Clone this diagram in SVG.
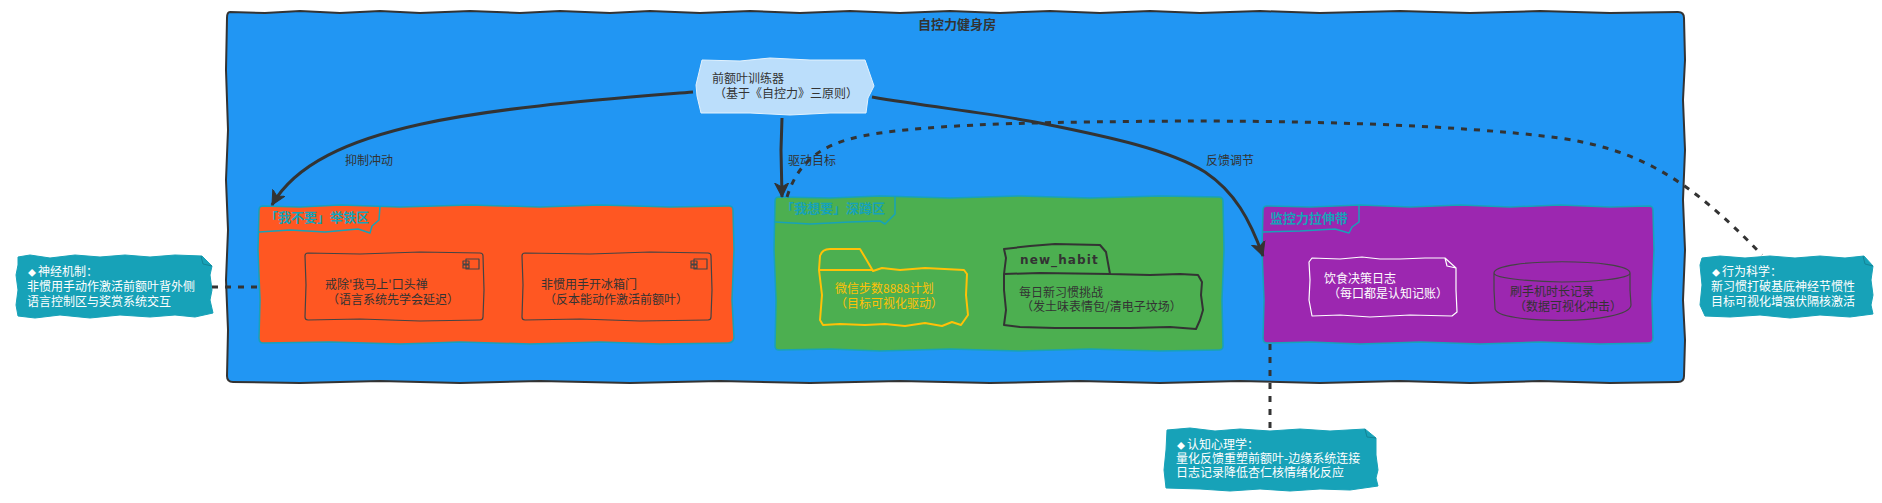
<svg xmlns="http://www.w3.org/2000/svg" width="1882" height="503" viewBox="0 0 1882 503">
<style>
text{font-family:"Noto Sans CJK SC","Noto Sans",sans-serif;font-size:12px;fill:#333;white-space:pre}
.zone{stroke:#17A2B8;stroke-width:1.5;stroke-linejoin:round}
.tab{fill:none;stroke:#17A2B8;stroke-width:1.5;stroke-linejoin:round}
.tt{fill:#17A2B8;font-weight:700;font-size:13px}
.note{fill:#17A2B8;stroke:#17A2B8;stroke-width:1;stroke-linejoin:round}
.nt{fill:#fff}
.dm{font-size:8px}
.fold{fill:none;stroke:#138496;stroke-width:1}
.cn{fill:none;stroke:#333;stroke-width:3;stroke-linecap:butt}
.ds{stroke-dasharray:6 7}
.sl{fill:none;stroke:#444;stroke-width:1.2;stroke-linejoin:round}
</style>
<defs>
<marker id="ah" markerUnits="userSpaceOnUse" markerWidth="18" markerHeight="16" refX="14" refY="8" orient="auto"><path d="M0 1L14 8L0 15L4 8Z" fill="#333" stroke="#333"/></marker>
</defs>
<g id="fitness-room">
<path d="M230 12L265 13L300 11L340 13L380 11L420 13L470 11L520 13L560 11L610 13L650 11L700 13L750 11L800 13L850 11L900 13L950 11L1000 13L1050 11L1100 13L1150 11L1200 13L1260 11L1320 13L1400 11L1470 13L1540 11L1610 13L1678 12Q1684 12 1684 18L1685 60L1683 100L1685 150L1683 200L1685 250L1683 300L1685 340L1684 376Q1684 382 1678 382L1610 383L1540 381L1470 383L1400 381L1320 383L1240 381L1160 383L1080 381L990 383L900 381L810 383L720 381L630 383L540 381L460 383L380 381L300 383L233 382Q227 382 227 376L228 330L226 280L228 230L226 180L228 130L226 70L227 18Q227 12 230 12Z" fill="#2196F3" stroke="#333" stroke-width="2"/>
<text x="918" y="29" style="font-weight:700;font-size:13px">自控力健身房</text>
</g>
<g id="zone-no">
<path class="zone" fill="#FF5722" d="M263 206L300 207L340 205L400 207L470 205L540 207L600 205L670 207L729 206Q733 206 733 210L734 250L732 300L734 338Q733 343 728 343L660 344L600 342L530 344L460 342L400 344L330 342L263 343Q259 343 259 338L260 300L258 250L259 210Q259 206 263 206Z"/>
<path class="tab" d="M259 232L290 230L325 232L358 229L370 233L372 226L379 220L380 206"/>
<text class="tt" x="265" y="222">「我不要」举铁区</text>
</g>
<g id="comp-1">
<path class="sl" d="M308 253L360 254L420 252L480 253Q483 253 483 256L484 290L483 317Q483 320 480 320L420 321L360 319L308 320Q305 320 305 317L306 285L305 256Q305 253 308 253Z"/>
<path class="sl" d="M466 259H479V269H466ZM463 261H469V264H463ZM463 265H469V268H463Z"/>
<text x="325" y="289">戒除'我马上'口头禅</text>
<text x="327" y="304">（语言系统先学会延迟）</text>
</g>
<g id="comp-2">
<path class="sl" d="M525 253L590 254L650 252L708 253Q711 253 711 256L712 290L711 317Q711 320 708 320L640 321L580 319L525 320Q522 320 522 317L523 285L522 256Q522 253 525 253Z"/>
<path class="sl" d="M694 259H707V269H694ZM691 261H697V264H691ZM691 265H697V268H691Z"/>
<text x="541" y="289">非惯用手开冰箱门</text>
<text x="544" y="304">（反本能动作激活前额叶）</text>
</g>
<g id="zone-want">
<path class="zone" fill="#4CAF50" d="M779 197L830 198L880 196L950 198L1020 196L1090 198L1160 196L1219 197Q1223 197 1223 201L1224 250L1222 300L1223 346Q1223 350 1219 350L1160 351L1090 349L1020 351L950 349L880 351L830 349L779 350Q775 350 775 346L776 300L774 250L775 201Q775 197 779 197Z"/>
<path class="tab" d="M775 222L810 224L850 222L880 221L885 224L888 221L895 214L895 197"/>
<text class="tt" x="781" y="213">「我想要」深蹲区</text>
</g>
<g id="folder">
<path fill="none" stroke="#FFC107" stroke-width="2" stroke-linejoin="round" d="M819 270L820 256Q822 249 830 249L860 249L866 259L873 271L882 268L900 270L925 268L964 270L967 274L966 295L968 315L961 325L952 322L942 326L925 323L905 326L885 324L865 325L840 324L823 325L820 320L822 295L819 270ZM819 270H873"/>
<text x="835" y="293" style="fill:#FFC107">微信步数8888计划</text>
<text x="835" y="308" style="fill:#FFC107">（目标可视化驱动）</text>
</g>
<g id="new_habit">
<path fill="none" stroke="#333" stroke-width="2" stroke-linejoin="round" d="M1004 274L1006 258L1004 249L1030 246L1055 244L1100 245L1106 252L1110 274L1150 275L1180 274L1198 275L1202 282L1201 295L1203 310L1200 320L1196 329L1170 327L1130 328L1090 328L1055 328L1020 327L1004 325L1006 310L1004 290L1004 274ZM1004 274L1040 273L1110 274"/>
<text x="1020" y="264" style="font-family:'DejaVu Sans',sans-serif;font-weight:700;letter-spacing:1.1px">new_habit</text>
<text x="1019" y="297">每日新习惯挑战</text>
<text x="1021" y="311">（发土味表情包/清电子坟场）</text>
</g>
<g id="zone-monitor">
<path class="zone" fill="#9C27B0" d="M1267 206L1310 207L1360 205L1410 207L1460 205L1510 207L1560 205L1610 207L1649 206Q1653 206 1653 210L1654 250L1652 300L1653 338Q1653 343 1648 343L1600 344L1540 342L1480 344L1420 342L1360 344L1310 342L1267 343Q1263 343 1263 338L1264 300L1262 250L1263 210Q1263 206 1267 206Z"/>
<path class="tab" d="M1263 232L1300 231L1335 229L1349 233L1352 227L1359 222L1359 206"/>
<text class="tt" x="1270" y="223">监控力拉伸带</text>
</g>
<g id="diet-log">
<path fill="none" stroke="#fff" stroke-width="1.2" stroke-linejoin="round" d="M1312 258L1340 259L1362 257L1380 259L1400 259L1425 258L1445 258L1456 268L1456 290L1457 312L1452 316L1410 315L1370 317L1340 315L1312 316L1309 300L1310 280L1309 262ZM1445 258L1447 266L1456 268"/>
<text class="nt" x="1324" y="283">饮食决策日志</text>
<text class="nt" x="1328" y="298">（每口都是认知记账）</text>
</g>
<g id="phone-log">
<path class="sl" d="M1494 273C1494 258 1630 258 1630 273L1630 290L1631 305C1630 325 1494 325 1495 308L1494 290ZM1494 273C1494 279 1540 282 1562 282C1590 282 1630 279 1630 273"/>
<text x="1510" y="296">刷手机时长记录</text>
<text x="1514" y="311">（数据可视化冲击）</text>
</g>
<g id="pfc">
<path fill="#BBDEFB" stroke="#E3F2FD" stroke-width="1" stroke-linejoin="round" d="M702 60L740 61L770 58L810 60L865 60L874 86L868 98L866 113L830 113L790 115L750 113L701 113L697 96L696 85Z"/>
<text x="712" y="83">前额叶训练器</text>
<text x="714" y="98">（基于《自控力》三原则）</text>
</g>
<g id="note-neuro">
<path class="note" d="M18 257L30 255L50 258L75 255L100 257L125 255L150 257L175 255L202 256L212 266L210 275L212 290L210 300L213 313L195 317L175 315L150 317L120 315L90 318L60 315L35 318L18 316L16 305L18 290L16 275L18 265Z"/>
<path class="fold" d="M201 256L203 264L212 266"/>
<text class="nt" x="28" y="276"><tspan class="dm">◆</tspan><tspan x="38">神经机制：</tspan></text>
<text class="nt" x="27" y="291">非惯用手动作激活前额叶背外侧</text>
<text class="nt" x="27" y="306">语言控制区与奖赏系统交互</text>
</g>
<g id="note-behavior">
<path class="note" d="M1702 258L1720 256L1745 258L1770 256L1795 258L1820 256L1845 258L1864 256L1873 266L1871 280L1873 295L1871 305L1873 314L1850 317L1820 315L1790 318L1760 315L1730 317L1705 316L1700 305L1702 285L1700 265Z"/>
<path class="fold" d="M1863 256L1865 264L1873 266"/>
<text class="nt" x="1712" y="276"><tspan class="dm">◆</tspan><tspan x="1722">行为科学：</tspan></text>
<text class="nt" x="1711" y="291">新习惯打破基底神经节惯性</text>
<text class="nt" x="1711" y="306">目标可视化增强伏隔核激活</text>
</g>
<g id="note-cog">
<path class="note" d="M1167 430L1190 428L1215 431L1240 429L1270 431L1300 429L1330 431L1365 429L1376 438L1376 455L1378 470L1376 478L1378 486L1350 490L1320 489L1290 491L1260 489L1230 491L1200 489L1166 488L1164 470L1166 450Z"/>
<path class="fold" d="M1365 429L1367 437L1376 438"/>
<text class="nt" x="1177" y="449"><tspan class="dm">◆</tspan><tspan x="1187">认知心理学：</tspan></text>
<text class="nt" x="1176" y="463">量化反馈重塑前额叶-边缘系统连接</text>
<text class="nt" x="1176" y="477">日志记录降低杏仁核情绪化反应</text>
</g>
<g id="connectors">
<path class="cn" marker-end="url(#ah)" d="M693 92C500 108 320 120 272 205"/>
<path class="cn" marker-end="url(#ah)" d="M782 118L781 150L782 197"/>
<path class="cn" marker-end="url(#ah)" d="M872 97C930 107 990 113 1040 123C1110 137 1170 150 1205 172C1235 192 1250 220 1263 256"/>
<path class="cn ds" d="M212 287H258"/>
<path class="cn ds" d="M1270 344V428"/>
<path class="cn ds" d="M787 197C800 155 830 140 880 133C950 123 1060 122 1185 121C1300 121 1450 124 1560 138C1640 150 1690 180 1762 255"/>
</g>
<g id="labels">
<text x="345" y="165">抑制冲动</text>
<text x="788" y="165">驱动目标</text>
<text x="1206" y="165">反馈调节</text>
</g>
</svg>
